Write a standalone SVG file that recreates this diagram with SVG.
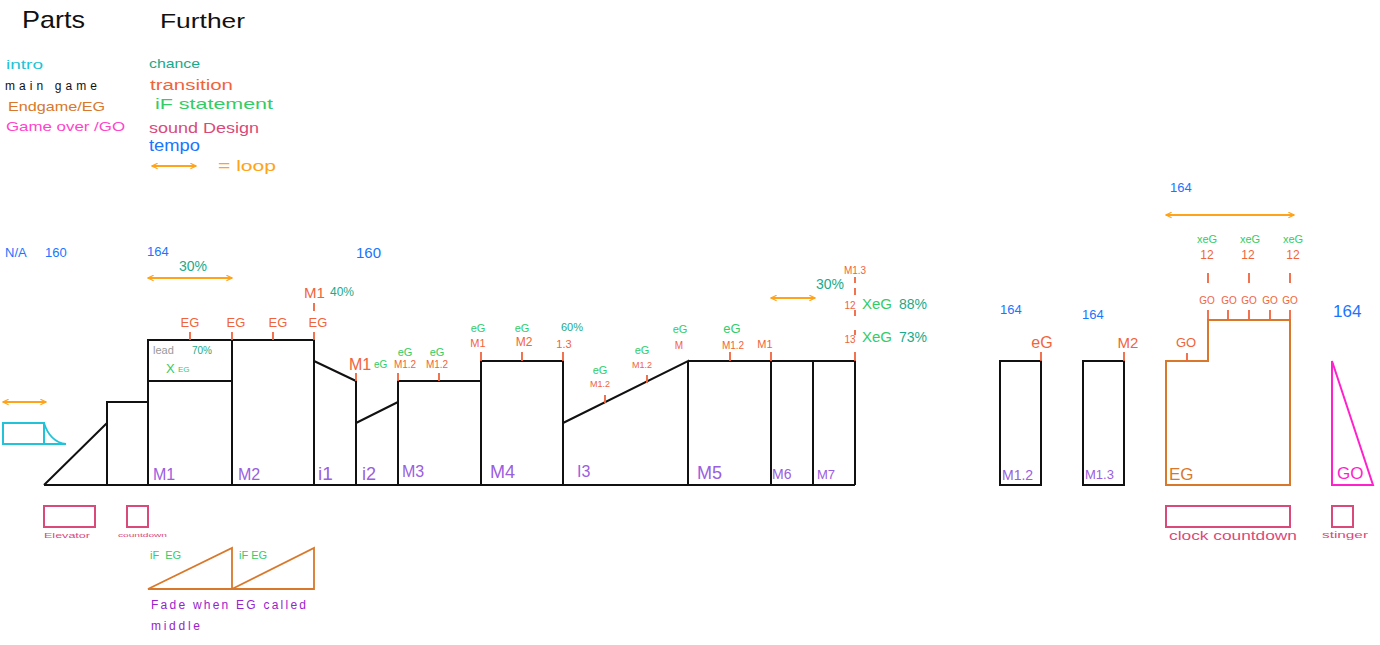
<svg xmlns="http://www.w3.org/2000/svg" width="1380" height="645" viewBox="0 0 1380 645">
<defs>
<marker id="ah" viewBox="0 0 10 10" refX="9" refY="5" markerWidth="7" markerHeight="7" orient="auto-start-reverse" markerUnits="userSpaceOnUse"><path d="M1,1 L9,5 L1,9" fill="none" stroke="#ffa31a" stroke-width="1.6"/></marker>
</defs>
<style>
text{font-family:"Liberation Sans","DejaVu Sans",sans-serif}
.blk{fill:none;stroke:#111;stroke-width:2}
.tick{stroke:#f0643c;stroke-width:1.8}
.loop{stroke:#ffa31a;stroke-width:2;fill:none;marker-start:url(#ah);marker-end:url(#ah)}
.tr{fill:#f0643c}
.gr{fill:#33cc66}
.ch{fill:#1aaa8a}
.bl{fill:#1a75ff}
.pu{fill:#9a5ee0}
.sd{fill:none;stroke:#d94a7a;stroke-width:2}
.sdt{fill:#d94a7a}
</style>
<rect width="1380" height="645" fill="#fff"/>
<g id="legend">
<text x="22" y="28" font-size="24" fill="#111" textLength="63" lengthAdjust="spacingAndGlyphs">Parts</text>
<text x="160" y="28" font-size="20" fill="#111" textLength="85" lengthAdjust="spacingAndGlyphs">Further</text>
<text x="6" y="69" font-size="13" fill="#22c3d8" textLength="37" lengthAdjust="spacingAndGlyphs">intro</text>
<text x="5" y="90" font-size="12" fill="#111" textLength="92" lengthAdjust="spacing">main game</text>
<text x="8" y="111" font-size="13" fill="#d9782a" textLength="97" lengthAdjust="spacingAndGlyphs">Endgame/EG</text>
<text x="6" y="131" font-size="13" fill="#ff44cc" textLength="119" lengthAdjust="spacingAndGlyphs">Game over /GO</text>
<text x="149" y="68" font-size="13" class="ch" textLength="51" lengthAdjust="spacingAndGlyphs">chance</text>
<text x="150" y="90" font-size="14" class="tr" textLength="83" lengthAdjust="spacingAndGlyphs">transition</text>
<text x="155" y="109" font-size="15" class="gr" textLength="118" lengthAdjust="spacingAndGlyphs">iF statement</text>
<text x="149" y="133" font-size="14" fill="#d94a7a" textLength="110" lengthAdjust="spacingAndGlyphs">sound Design</text>
<text x="149" y="151" font-size="16" class="bl" textLength="51" lengthAdjust="spacingAndGlyphs">tempo</text>
<line x1="152" y1="166" x2="196" y2="166" class="loop"/>
<text x="218" y="171" font-size="14" fill="#ffa31a" textLength="58" lengthAdjust="spacingAndGlyphs">= loop</text>
</g>
<g id="tempos">
<text x="5" y="257" font-size="13" class="bl">N/A</text>
<text x="45" y="257" font-size="13" class="bl">160</text>
<text x="147" y="256" font-size="13" class="bl">164</text>
<text x="356" y="258" font-size="15" class="bl">160</text>
<text x="1000" y="314" font-size="13" class="bl">164</text>
<text x="1082" y="319" font-size="13" class="bl">164</text>
<text x="1170" y="192" font-size="13" class="bl">164</text>
<text x="1333" y="317" font-size="17" class="bl">164</text>
</g>
<g id="intro">
<rect x="3" y="423" width="41" height="21" fill="none" stroke="#22c3d8" stroke-width="2"/>
<path d="M44,423 Q50,442 66,444 L44,444" fill="none" stroke="#22c3d8" stroke-width="1.8"/>
<line x1="3" y1="402" x2="46" y2="402" class="loop"/>
</g>
<g id="main-game">
<path class="blk" d="M44,485 L855,485"/>
<path class="blk" d="M44,485 L107,423 M107,485 L107,402 L148,402"/>
<path class="blk" d="M148,485 L148,340 L314,340 L314,485 M148,381 L232,381 M232,340 L232,485"/>
<path class="blk" d="M314,361 L356,381 L356,485 M356,423 L398,402"/>
<path class="blk" d="M398,485 L398,381 L481,381 M481,485 L481,361 L563,361 L563,485 M563,423 L688,361 L688,485 M688,361 L855,361 L855,485 M771,361 L771,485 M813,361 L813,485"/>
<rect x="1000" y="361" width="41" height="124" class="blk"/>
<rect x="1083" y="361" width="41" height="124" class="blk"/>
</g>
<g id="endgame">
<path d="M1166,485 L1166,361 L1208,361 L1208,320 L1290,320 L1290,485 Z" fill="none" stroke="#d9782a" stroke-width="2"/>
<text x="1169" y="480" font-size="17" fill="#d9782a">EG</text>
</g>
<g id="game-over">
<path d="M1332,361 L1332,485 L1373,485 Z" fill="none" stroke="#ff22cc" stroke-width="2"/>
<text x="1337" y="479" font-size="17" fill="#ff22cc">GO</text>
</g>
<g id="section-labels" font-size="16">
<text x="153" y="480" class="pu">M1</text>
<text x="238" y="480" class="pu">M2</text>
<text x="318" y="480" class="pu" font-size="19">i1</text>
<text x="362" y="480" class="pu" font-size="18">i2</text>
<text x="402" y="477" class="pu">M3</text>
<text x="490" y="478" class="pu" font-size="18">M4</text>
<text x="577" y="477" class="pu">I3</text>
<text x="697" y="479" class="pu" font-size="18">M5</text>
<text x="772" y="479" class="pu" font-size="14">M6</text>
<text x="817" y="479" class="pu" font-size="13">M7</text>
<text x="1002" y="480" class="pu" font-size="14">M1.2</text>
<text x="1085" y="479" class="pu" font-size="13">M1.3</text>
</g>
<g id="lead">
<text x="153" y="354" font-size="11" fill="#999">lead</text>
<text x="192" y="354" font-size="10" class="ch">70%</text>
<text x="166" y="373" font-size="13" class="gr">X</text>
<text x="178" y="372" font-size="8" class="gr">EG</text>
</g>
<g id="connectors">
<line x1="148" y1="278" x2="232" y2="278" class="loop"/>
<line x1="771" y1="298" x2="815" y2="298" class="loop"/>
<line x1="1166" y1="215" x2="1294" y2="215" class="loop"/>
<path class="tick" d="M190,332V340 M232,332V340 M273,332V340 M314,332V340 M314,303V311"/>
<path class="tick" d="M356,373V381 M398,373V381 M439,373V381 M481,352V361 M522,352V361 M563,352V361"/>
<path class="tick" d="M605,395V403 M647,375V383 M730,352V361 M771,352V361 M855,352V361 M855,335V330 M855,316V310 M855,295V288 M855,283V277"/>
<path class="tick" d="M1041,352V361 M1124,352V361"/>
<path class="tick" d="M1187,353V361 M1208,310V320 M1228,310V320 M1249,310V320 M1270,310V320 M1290,310V320 M1208,273V283 M1249,273V283 M1290,273V283"/>
</g>
<g id="transition-labels" font-size="13">
<text x="190" y="327" class="tr" text-anchor="middle">EG</text>
<text x="236" y="327" class="tr" text-anchor="middle">EG</text>
<text x="278" y="327" class="tr" text-anchor="middle">EG</text>
<text x="318" y="327" class="tr" text-anchor="middle">EG</text>
<text x="304" y="298" class="tr" font-size="15">M1</text>
<text x="330" y="296" class="ch" font-size="12">40%</text>
<text x="349" y="370" class="tr" font-size="16">M1</text>
<text x="374" y="368" class="gr" font-size="10">eG</text>
<text x="405" y="356" class="gr" font-size="11" text-anchor="middle">eG</text>
<text x="405" y="368" class="tr" font-size="10" text-anchor="middle">M1.2</text>
<text x="437" y="356" class="gr" font-size="11" text-anchor="middle">eG</text>
<text x="437" y="368" class="tr" font-size="10" text-anchor="middle">M1.2</text>
<text x="478" y="332" class="gr" font-size="11" text-anchor="middle">eG</text>
<text x="478" y="347" class="tr" font-size="11" text-anchor="middle">M1</text>
<text x="522" y="332" class="gr" font-size="11" text-anchor="middle">eG</text>
<text x="524" y="346" class="tr" font-size="12" text-anchor="middle">M2</text>
<text x="572" y="331" class="ch" font-size="11" text-anchor="middle">60%</text>
<text x="564" y="348" class="tr" font-size="11" text-anchor="middle">1.3</text>
<text x="600" y="374" class="gr" font-size="11" text-anchor="middle">eG</text>
<text x="600" y="387" class="tr" font-size="9" text-anchor="middle">M1.2</text>
<text x="642" y="354" class="gr" font-size="11" text-anchor="middle">eG</text>
<text x="642" y="368" class="tr" font-size="9" text-anchor="middle">M1.2</text>
<text x="680" y="333" class="gr" font-size="11" text-anchor="middle">eG</text>
<text x="679" y="349" class="tr" font-size="10" text-anchor="middle">M</text>
<text x="732" y="333" class="gr" font-size="13" text-anchor="middle">eG</text>
<text x="733" y="349" class="tr" font-size="10" text-anchor="middle">M1.2</text>
<text x="765" y="348" class="tr" font-size="11" text-anchor="middle">M1</text>
<text x="816" y="289" class="ch" font-size="14">30%</text>
<text x="193" y="271" class="ch" font-size="14" text-anchor="middle">30%</text>
<text x="855" y="274" class="tr" font-size="10" text-anchor="middle">M1.3</text>
<text x="850" y="309" class="tr" font-size="10" text-anchor="middle">12</text>
<text x="850" y="343" class="tr" font-size="10" text-anchor="middle">13</text>
<text x="862" y="309" class="gr" font-size="15">XeG</text>
<text x="899" y="309" class="ch" font-size="14">88%</text>
<text x="862" y="342" class="gr" font-size="15">XeG</text>
<text x="899" y="342" class="ch" font-size="14">73%</text>
<text x="1042" y="348" class="tr" font-size="16" text-anchor="middle">eG</text>
<text x="1128" y="348" class="tr" font-size="15" text-anchor="middle">M2</text>
<text x="1186" y="347" class="tr" font-size="13" text-anchor="middle">GO</text>
<text x="1207" y="304" class="tr" font-size="10" text-anchor="middle">GO</text>
<text x="1229" y="304" class="tr" font-size="10" text-anchor="middle">GO</text>
<text x="1249" y="304" class="tr" font-size="10" text-anchor="middle">GO</text>
<text x="1270" y="304" class="tr" font-size="10" text-anchor="middle">GO</text>
<text x="1290" y="304" class="tr" font-size="10" text-anchor="middle">GO</text>
<text x="1207" y="259" class="tr" font-size="12" text-anchor="middle">12</text>
<text x="1248" y="259" class="tr" font-size="12" text-anchor="middle">12</text>
<text x="1293" y="259" class="tr" font-size="12" text-anchor="middle">12</text>
<text x="1207" y="243" class="gr" font-size="11" text-anchor="middle">xeG</text>
<text x="1250" y="243" class="gr" font-size="11" text-anchor="middle">xeG</text>
<text x="1293" y="243" class="gr" font-size="11" text-anchor="middle">xeG</text>
</g>
<g id="sound-design">
<rect x="44" y="506" width="51" height="21" class="sd"/>
<text x="44" y="538" font-size="8" class="sdt" textLength="46" lengthAdjust="spacingAndGlyphs">Elevator</text>
<rect x="127" y="506" width="21" height="21" class="sd"/>
<text x="118" y="537" font-size="6" class="sdt" textLength="49" lengthAdjust="spacingAndGlyphs">countdown</text>
<rect x="1166" y="506" width="124" height="21" class="sd"/>
<text x="1169" y="540" font-size="12" class="sdt" textLength="128" lengthAdjust="spacingAndGlyphs">clock  countdown</text>
<rect x="1332" y="506" width="21" height="21" class="sd"/>
<text x="1322" y="538" font-size="9" class="sdt" textLength="46" lengthAdjust="spacingAndGlyphs">stinger</text>
</g>
<g id="fade">
<path d="M148,589 L232,548 L232,589 Z M232,589 L314,548 L314,589 Z" fill="none" stroke="#d9782a" stroke-width="1.8"/>
<text x="150" y="559" font-size="11" class="gr">iF&#160;&#160;EG</text>
<text x="239" y="559" font-size="11" class="gr">iF EG</text>
<text x="151" y="609" font-size="12" fill="#9922cc" textLength="155" lengthAdjust="spacing">Fade when EG called</text>
<text x="151" y="630" font-size="12" fill="#9922cc" textLength="49" lengthAdjust="spacing">middle</text>
</g>
</svg>
